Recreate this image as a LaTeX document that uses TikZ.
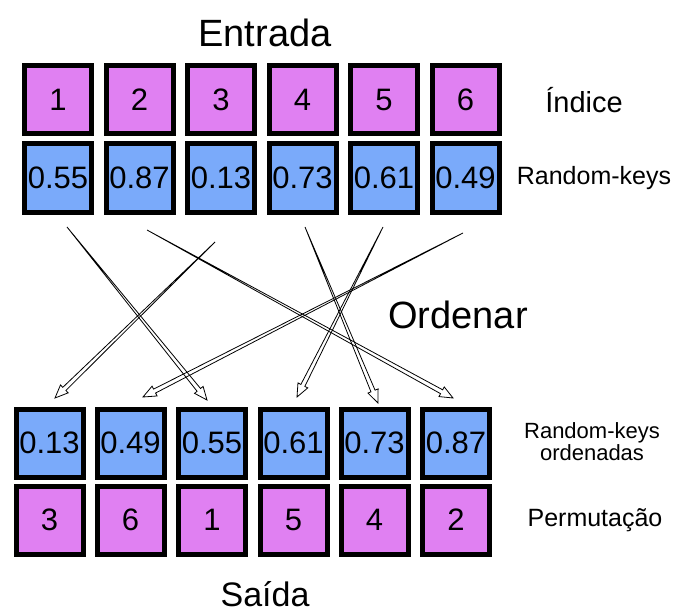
\documentclass[tikz,border=0pt]{standalone}
\usepackage{fontspec}
\setmainfont{Liberation Sans}
\usetikzlibrary{calc}
\definecolor{boxviolet}{RGB}{224,128,242}
\definecolor{boxblue}{RGB}{122,170,250}
\tikzset{
  cell/.style={draw=black, line width=5pt, minimum width=67pt, minimum height=68pt, inner sep=0pt, font=\fontsize{31}{31}\selectfont},
  vcell/.style={cell, fill=boxviolet},
  bcell/.style={cell, fill=boxblue},
  title/.style={anchor=base, font=\fontsize{38}{38}\selectfont},
  side/.style={font=\fontsize{25}{25}\selectfont, align=center},
  hollow/.style={draw=black, line width=0.8pt, line join=miter}
}
\begin{document}
\begin{tikzpicture}[x=1pt,y=-1pt]
\useasboundingbox (0,0) rectangle (676,612);
% top rows
\foreach \i/\x/\a/\b in {1/58/1/0.55, 2/139.5/2/0.87, 3/221/3/0.13, 4/302.5/4/0.73, 5/384/5/0.61, 6/465.5/6/0.49}{
  \node[vcell] (i\i) at (\x,100) {\a};
  \node[bcell] (k\i) at (\x,178) {\b};
}
% bottom rows
\foreach \i/\x/\a/\b in {1/49.5/0.13/3, 2/130.5/0.49/6, 3/212/0.55/1, 4/293.5/0.61/5, 5/374.5/0.73/4, 6/456/0.87/2}{
  \node[bcell] (o\i) at (\x,443) {\a};
  \node[vcell] (p\i) at (\x,520) {\b};
}
\node[title] (entrada) at (265,47) {Entrada};
\node[title] (ordenar) at (458,328) {Ordenar};
\node[title, font=\fontsize{34}{34}\selectfont] (saida) at (265,606) {Saída};
\node[side, font=\fontsize{29}{29}\selectfont] (indice) at (584,100) {Índice};
\node[side] (rk) at (594,178) {Random-keys};
\node[side, font=\fontsize{22}{22}\selectfont] (rko) at (592,442) {Random-keys\\ordenadas};
\node[side] (perm) at (595,520) {Permutação};
% arrow endpoints
\coordinate (s1) at (67,227);  \coordinate (e1) at (207,400);
\coordinate (s2) at (147,230); \coordinate (e2) at (453,398);
\coordinate (s3) at (215,242); \coordinate (e3) at (55,398);
\coordinate (s4) at (305,227); \coordinate (e4) at (378,403);
\coordinate (s5) at (383,227); \coordinate (e5) at (297,397);
\coordinate (s6) at (463,233); \coordinate (e6) at (143,397);
\foreach \n in {1,...,6}{
  \coordinate (b\n) at ($(e\n)!13pt!(s\n)$);
  \draw[hollow] (s\n) -- ($(b\n)!2.2pt!90:(e\n)$) -- ($(b\n)!5.5pt!90:(e\n)$) -- (e\n)
     -- ($(b\n)!5.5pt!-90:(e\n)$) -- ($(b\n)!2.2pt!-90:(e\n)$) -- cycle;
}
\end{tikzpicture}
\end{document}
